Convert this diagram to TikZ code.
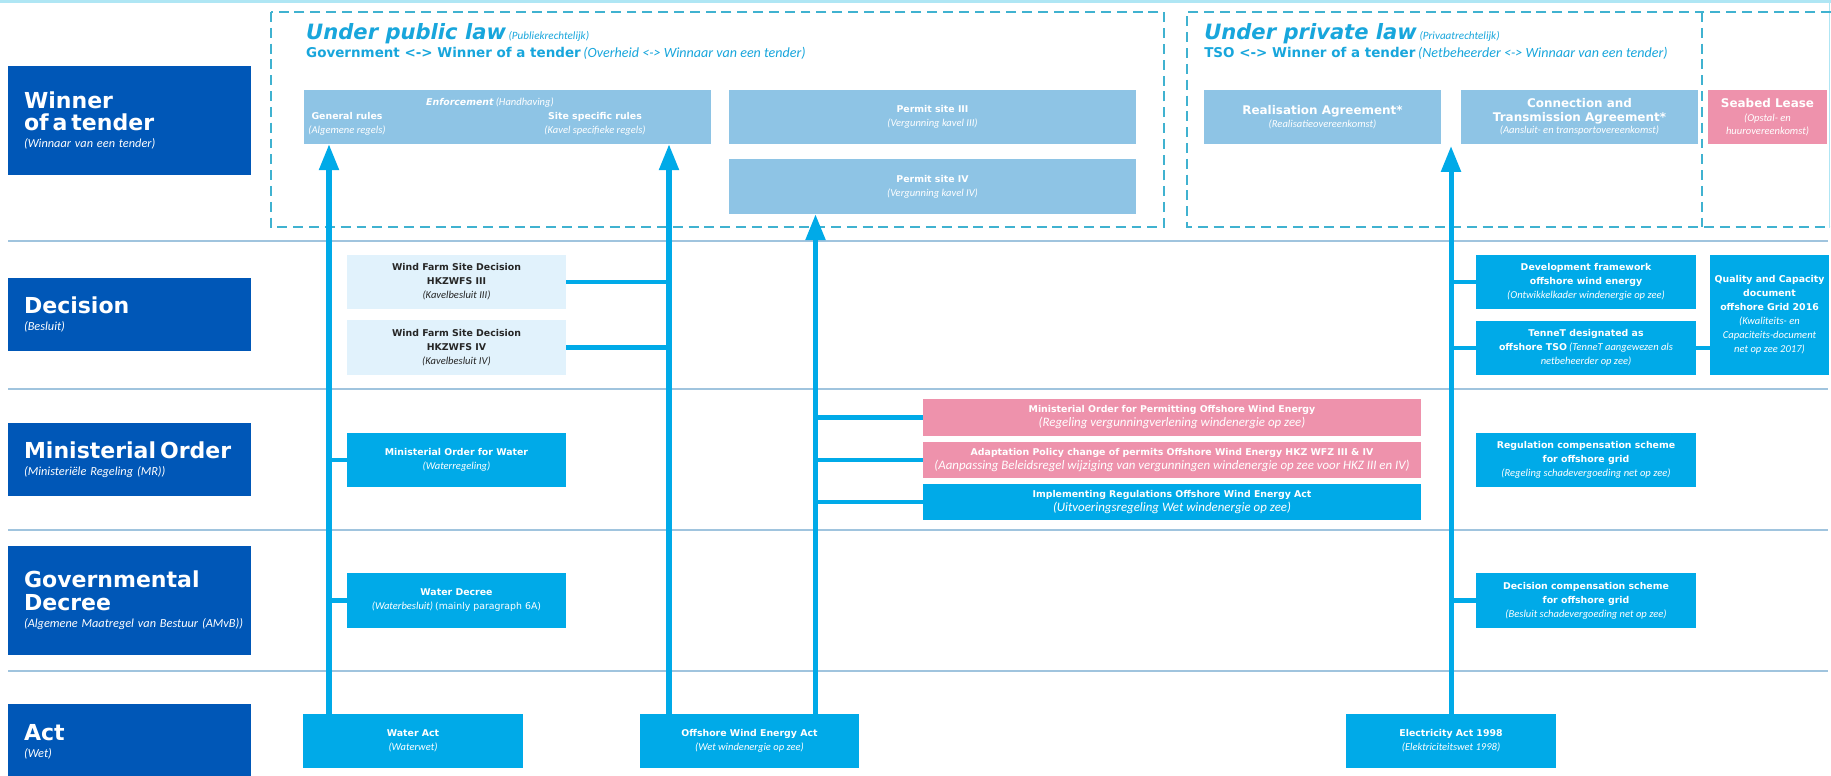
\documentclass[tikz,border=0pt]{standalone}
\usepackage{fontspec}
\setmainfont{Carlito}
\newfontfamily\headfont{DejaVu Sans}
\usetikzlibrary{arrows.meta,positioning}
\definecolor{lawblue}{RGB}{0,87,183}
\definecolor{actcyan}{RGB}{0,170,232}
\definecolor{paleblue}{RGB}{142,196,229}
\definecolor{pinkbox}{RGB}{238,146,172}
\definecolor{iceblue}{RGB}{225,242,252}
\definecolor{headcyan}{RGB}{24,166,220}
\definecolor{dashcyan}{RGB}{64,178,208}
\definecolor{rulegray}{RGB}{160,196,222}
\definecolor{framecyan}{RGB}{175,230,244}
\newcommand{\pxu}{0.03cm}
% text helpers
\newcommand{\rowt}[1]{{\headfont\bfseries\fontsize{18.8}{19.5}\selectfont #1\par}}
\newcommand{\rows}[1]{{\itshape\fontsize{10.5}{14.5}\selectfont #1\par}}
\newcommand{\hbig}[1]{{\headfont\bfseries\itshape\fontsize{18}{20}\selectfont #1}}
\newcommand{\hmid}[1]{{\headfont\bfseries\fontsize{11.5}{14}\selectfont #1}}
\newcommand{\hsub}[1]{{\itshape\fontsize{9.5}{12}\selectfont #1}}
\newcommand{\hsubl}[1]{{\itshape\fontsize{12}{14}\selectfont #1}}
\newcommand{\bx}[1]{{\headfont\bfseries #1}}
\newcommand{\ix}[1]{{\itshape\fontsize{9}{12}\selectfont #1}}
\newcommand{\ixl}[1]{{\itshape\fontsize{11}{12}\selectfont #1}}
\newcommand{\bw}[1]{{\headfont\bfseries\fontsize{10.2}{12}\selectfont #1}}

\begin{document}
\begin{tikzpicture}[x=0.03cm,y=-0.03cm,
    sz/.style 2 args={minimum width=#1*\pxu,minimum height=#2*\pxu},
    cell/.style={inner sep=0pt,align=center,text=white,font=\fontsize{8}{12}\selectfont},
    rowlabel/.style={fill=lawblue,text=white,inner sep=0pt,text width=207.4pt,align=left,minimum width=243*\pxu},
    pale/.style={cell,fill=paleblue},
    cyanbox/.style={cell,fill=actcyan},
    pinkb/.style={cell,fill=pinkbox},
    icebox/.style={cell,fill=iceblue,text=black!85},
    heading/.style={anchor=base west,inner sep=0pt,text=headcyan},
    rule/.style={rulegray,line width=1.2pt},
    dashbox/.style={dashcyan,line width=1.3pt,dash pattern=on 8.5pt off 5pt},
    flow/.style={actcyan,line width=4.3pt,-{Triangle[width=16.2pt,length=22pt]}},
    branch/.style={actcyan,line width=4pt}]
    \useasboundingbox (0,0) rectangle (1831,775);
    \fill[white] (0,0) rectangle (1831,775);

    % frame, row rules and law regions
    \draw[framecyan,line width=2pt] (0,1.5) -- (1831,1.5);
    \draw[framecyan,line width=1.5pt] (1829.5,0) -- (1829.5,228);
    \foreach \ry in {241,389,530,671}
      \draw[rule] (8,\ry) -- (1828,\ry);
    \draw[dashbox] (271,12) rectangle (1164,227);
    \draw[dashbox] (1831,12) -- (1187,12) -- (1187,227) -- (1831,227);
    \draw[dashbox] (1702,12) -- (1702,227);

    % row labels
    \node (winner) [rowlabel,minimum height=109*\pxu] at (129.5,120.5) {\leftskip=13.7pt\rowt{Winner\\of a tender}\rows{(Winnaar van een tender)}};
    \node (decision) [rowlabel,minimum height=73*\pxu] at (129.5,314.5) {\leftskip=13.7pt\rowt{Decision}\rows{(Besluit)}};
    \node (minorder) [rowlabel,minimum height=73*\pxu] at (129.5,459.5) {\leftskip=13.7pt\rowt{Ministerial Order}\rows{(Ministeriële Regeling (MR))}};
    \node (govdecree) [rowlabel,minimum height=109*\pxu] at (129.5,600.5) {\leftskip=13.7pt\rowt{Governmental\\Decree}\rows{(Algemene Maatregel van Bestuur (AMvB))}};
    \node (act) [rowlabel,minimum height=76*\pxu] at (129.5,742) {\leftskip=13.7pt\rowt{Act}\rows{(Wet)}};

    % headings
    \node (pubhead) [heading] at (306,39) {\hbig{Under public law} \hsub{(Publiekrechtelijk)}};
    \node (pubsub) [heading] at (306,57) {\hmid{Government <-> Winner of a tender} \hsubl{(Overheid <-> Winnaar van een tender)}};
    \node (privhead) [heading] at (1204,39) {\hbig{Under private law} \hsub{(Privaatrechtelijk)}};
    \node (privsub) [heading] at (1204,57) {\hmid{TSO <-> Winner of a tender} \hsubl{(Netbeheerder <-> Winnaar van een tender)}};

    % winner of a tender
    \node (enf) [pale,sz={407.5}{54}] at (507.25,117) {};
    \node (enfhead) [cell] at (490,103) {{\headfont\bfseries\itshape Enforcement} \ix{(Handhaving)}};
    \node (enfgen) [cell] at (347,124) {\bx{General rules}\\\ix{(Algemene regels)}};
    \node (enfsite) [cell] at (595,124) {\bx{Site specific rules}\\\ix{(Kavel specifieke regels)}};
    \node (permit3) [pale,sz={407}{54}] at (932.5,117) {\bx{Permit site III}\\\ix{(Vergunning kavel III)}};
    \node (permit4) [pale,sz={407}{55}] at (932.5,186.5) {\bx{Permit site IV}\\\ix{(Vergunning kavel IV)}};
    \node (real) [pale,sz={237}{54}] at (1322.5,117) {\bw{Realisation Agreement*}\\[-1pt]\ix{(Realisatieovereenkomst)}};
    \node (cta) [pale,sz={237}{54}] at (1579.5,117) {\bw{Connection and}\\\bw{Transmission Agreement*}\\[-2pt]\ix{(Aansluit- en transportovereenkomst)}};
    \node (seabed) [pinkb,sz={119}{54}] at (1767.5,117) {\bw{Seabed Lease}\\\ix{(Opstal- en}\\[-1pt]\ix{huurovereenkomst)}};

    % decision
    \node (wfs3) [icebox,sz={219}{54}] at (456.5,282) {\bx{Wind Farm Site Decision}\\\bx{HKZWFS III}\\\ix{(Kavelbesluit III)}};
    \node (wfs4) [icebox,sz={219}{55}] at (456.5,347.5) {\bx{Wind Farm Site Decision}\\\bx{HKZWFS IV}\\\ix{(Kavelbesluit IV)}};
    \node (devfw) [cyanbox,sz={220}{54}] at (1586,282) {\bx{Development framework}\\\bx{offshore wind energy}\\\ix{(Ontwikkelkader windenergie op zee)}};
    \node (tennet) [cyanbox,sz={220}{54}] at (1586,348) {\bx{TenneT designated as}\\\bx{offshore TSO} \ix{(TenneT aangewezen als}\\\ix{netbeheerder op zee)}};
    \node (quality) [cyanbox,sz={119}{120}] at (1769.5,315) {\bx{Quality and Capacity}\\\bx{document}\\\bx{offshore Grid 2016}\\\ix{(Kwaliteits- en}\\\ix{Capaciteits-document}\\\ix{net op zee 2017)}};

    % ministerial order
    \node (mowater) [cyanbox,sz={219}{54}] at (456.5,460) {\bx{Ministerial Order for Water}\\\ix{(Waterregeling)}};
    \node (moperm) [pinkb,sz={498}{37}] at (1172,417.5) {\bx{Ministerial Order for Permitting Offshore Wind Energy}\\\ixl{(Regeling vergunningverlening windenergie op zee)}};
    \node (adapt) [pinkb,sz={498}{36}] at (1172,460) {\bx{Adaptation Policy change of permits Offshore Wind Energy HKZ WFZ III \& IV}\\\ixl{(Aanpassing Beleidsregel wijziging van vergunningen windenergie op zee voor HKZ III en IV)}};
    \node (implreg) [cyanbox,sz={498}{36}] at (1172,502) {\bx{Implementing Regulations Offshore Wind Energy Act}\\\ixl{(Uitvoeringsregeling Wet windenergie op zee)}};
    \node (regcomp) [cyanbox,sz={220}{54}] at (1586,460) {\bx{Regulation compensation scheme}\\\bx{for offshore grid}\\\ix{(Regeling schadevergoeding net op zee)}};

    % governmental decree
    \node (wdecree) [cyanbox,sz={219}{55}] at (456.5,600.5) {\bx{Water Decree}\\\ix{(Waterbesluit)} {\headfont (mainly paragraph 6A)}};
    \node (deccomp) [cyanbox,sz={220}{55}] at (1586,600.5) {\bx{Decision compensation scheme}\\\bx{for offshore grid}\\\ix{(Besluit schadevergoeding net op zee)}};

    % act
    \node (wateract) [cyanbox,sz={219.5}{54}] at (413,741) {\bx{Water Act}\\\ix{(Waterwet)}};
    \node (owea) [cyanbox,sz={219}{54}] at (749.5,741) {\bx{Offshore Wind Energy Act}\\\ix{(Wet windenergie op zee)}};
    \node (elecact) [cyanbox,sz={210}{54}] at (1451,741) {\bx{Electricity Act 1998}\\\ix{(Elektriciteitswet 1998)}};

    % trunks
    \coordinate (t1) at (329,0);
    \coordinate (t2) at (669,0);
    \coordinate (t3) at (815.5,0);
    \coordinate (t4) at (1451,146);
    \draw[flow] (wateract.north -| t1) -- (enf.south -| t1);
    \draw[flow] (owea.north -| t2) -- (enf.south -| t2);
    \draw[flow] (owea.north -| t3) -- (permit4.south -| t3);
    \draw[flow] (elecact.north) -- (t4);

    % branches
    \draw[branch] (mowater.west) -- (mowater.west -| t1);
    \draw[branch] (wdecree.west) -- (wdecree.west -| t1);
    \draw[branch] (wfs3.east) -- (wfs3.east -| t2);
    \draw[branch] (wfs4.east) -- (wfs4.east -| t2);
    \draw[branch] (moperm.west) -- (moperm.west -| t3);
    \draw[branch] (adapt.west) -- (adapt.west -| t3);
    \draw[branch] (implreg.west) -- (implreg.west -| t3);
    \draw[branch] (devfw.west) -- (devfw.west -| t4);
    \draw[branch] (tennet.west) -- (tennet.west -| t4);
    \draw[branch] (deccomp.west) -- (deccomp.west -| t4);
    \draw[branch] (tennet.east) -- (quality.west |- tennet.east);
\end{tikzpicture}
\end{document}
